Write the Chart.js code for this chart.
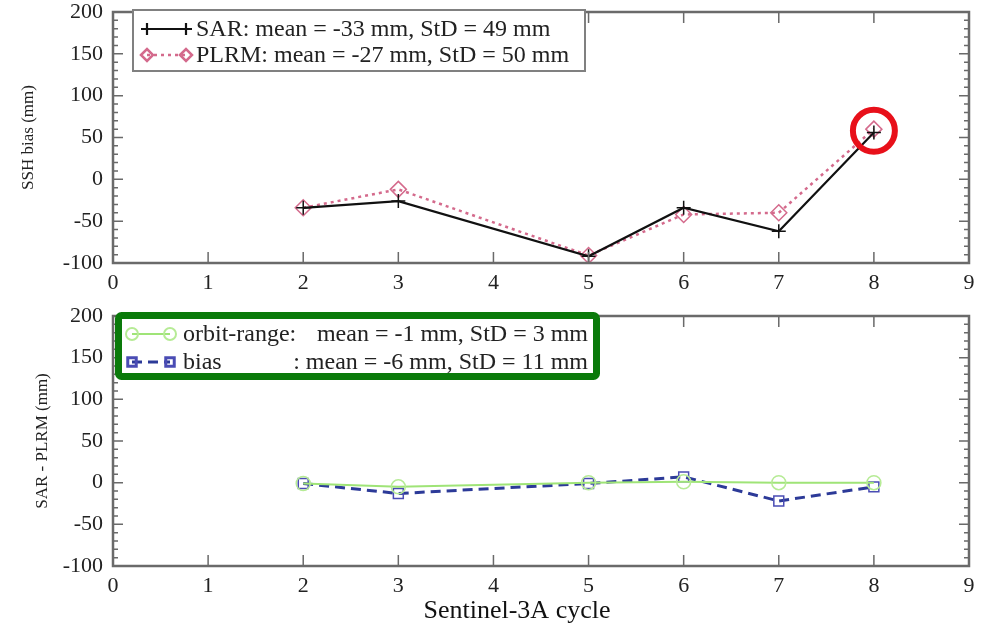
<!DOCTYPE html>
<html>
<head>
<meta charset="utf-8">
<script src="https://cdn.jsdelivr.net/npm/chart.js@4.4.0/dist/chart.umd.min.js"></script>
<style>
  body { margin: 0; background: #fff; }
  #wrap { position: relative; width: 993px; height: 630px; }
  .panel { position: absolute; left: 0; width: 993px; }
  #top { top: 0; height: 300px; }
  #bot { top: 300px; height: 330px; }
</style>
</head>
<body>
<div id="wrap">
  <div class="panel" id="top"><canvas id="c1"></canvas></div>
  <div class="panel" id="bot"><canvas id="c2"></canvas></div>
</div>
<script>
// values (mm)
const cycles = [2, 3, 5, 6, 7, 8];
const sarBias = [-34, -26, -92, -34, -62, 56];
const plrmBias = [-34, -12, -91, -42, -40, 60];
const orbitRange = [-1, -5, 0, 1, 0, 0];
const diffBias = [-1, -13, -1, 7, -22, -5];

const xTicks = [0, 1, 2, 3, 4, 5, 6, 7, 8, 9];
const yTicks = [-100, -50, 0, 50, 100, 150, 200];

const topLabels = ['SAR: mean = -33 mm, StD = 49 mm', 'PLRM: mean = -27 mm, StD = 50 mm'];
const botNames = ['orbit-range:', 'bias'];
const botStats = ['mean = -1 mm, StD = 3 mm', ': mean = -6 mm, StD = 11 mm'];

// circled point (cycle 8)
const markCycle = 8;
const markValue = 58;

const FONT = "'Liberation Serif', 'Times New Roman', serif";

function pts(vals) {
  return cycles.map((c, i) => ({ x: c, y: vals[i] }));
}

// xmgrace-like frame with inward ticks on all four sides
const frameTicks = {
  id: 'frameTicks',
  afterDatasetsDraw(chart) {
    const { ctx, chartArea: a, scales: { x, y } } = chart;
    ctx.save();
    ctx.strokeStyle = '#6a6a6a';
    ctx.lineWidth = 1.5;
    ctx.beginPath();
    for (let v = yTicks[0]; v <= yTicks[yTicks.length - 1]; v += 10) {
      const py = y.getPixelForValue(v);
      const len = yTicks.includes(v) ? 10 : 5;
      ctx.moveTo(a.left, py); ctx.lineTo(a.left + len, py);
      ctx.moveTo(a.right, py); ctx.lineTo(a.right - len, py);
    }
    xTicks.forEach(v => {
      const px = x.getPixelForValue(v);
      ctx.moveTo(px, a.bottom); ctx.lineTo(px, a.bottom - 11);
      ctx.moveTo(px, a.top); ctx.lineTo(px, a.top + 11);
    });
    ctx.stroke();
    ctx.lineWidth = 2.5;
    ctx.strokeRect(a.left, a.top, a.right - a.left, a.bottom - a.top);
    ctx.restore();
  }
};

function sample(ctx, ds, x0, x1, yy, r) {
  ctx.save();
  ctx.strokeStyle = ds.borderColor;
  ctx.lineWidth = ds.borderWidth;
  ctx.setLineDash(ds.borderDash || []);
  ctx.beginPath();
  ctx.moveTo(x0, yy); ctx.lineTo(x1, yy);
  ctx.stroke();
  ctx.setLineDash([]);
  ctx.strokeStyle = ds.pointBorderColor;
  ctx.fillStyle = 'rgba(0,0,0,0)';
  [x0, x1].forEach(px => {
    Chart.helpers.drawPoint(ctx, { pointStyle: ds.pointStyle, radius: r, rotation: 0, borderWidth: ds.pointBorderWidth }, px, yy);
  });
  ctx.restore();
}

const topLegend = {
  id: 'topLegend',
  afterDraw(chart) {
    const ctx = chart.ctx;
    ctx.save();
    ctx.fillStyle = '#fff';
    ctx.fillRect(133, 10, 452, 61);
    ctx.strokeStyle = '#808080';
    ctx.lineWidth = 2;
    ctx.strokeRect(133, 10, 452, 61);
    ctx.font = '24px ' + FONT;
    ctx.textBaseline = 'middle';
    ctx.fillStyle = '#222';
    chart.data.datasets.forEach((ds, i) => {
      const yy = 29 + i * 26;
      sample(ctx, ds, 147, 186, yy, 6);
      ctx.fillText(topLabels[i], 196, yy + 1);
    });
    // highlight circle
    const { x, y } = chart.scales;
    ctx.beginPath();
    ctx.strokeStyle = '#e8101a';
    ctx.lineWidth = 6;
    ctx.arc(x.getPixelForValue(markCycle), y.getPixelForValue(markValue), 21, 0, Math.PI * 2);
    ctx.stroke();
    ctx.restore();
  }
};

const botLegend = {
  id: 'botLegend',
  afterDraw(chart) {
    const ctx = chart.ctx;
    ctx.save();
    ctx.fillStyle = '#fff';
    ctx.beginPath();
    ctx.roundRect(118.5, 15.5, 478, 61, 3);
    ctx.fill();
    ctx.strokeStyle = '#0a7a0a';
    ctx.lineWidth = 7;
    ctx.stroke();
    ctx.font = '24px ' + FONT;
    ctx.textBaseline = 'middle';
    ctx.fillStyle = '#222';
    chart.data.datasets.forEach((ds, i) => {
      const yy = 34 + i * 28;
      sample(ctx, ds, 132, 170, yy, 6);
      ctx.textAlign = 'left';
      ctx.fillText(botNames[i], 183, yy + 1);
      ctx.textAlign = 'right';
      ctx.fillText(botStats[i], 588, yy + 1);
    });
    // x axis title
    ctx.textAlign = 'center';
    ctx.font = '26px ' + FONT;
    ctx.fillStyle = '#111';
    ctx.fillText('Sentinel-3A cycle', 517, 311);
    ctx.restore();
  }
};

function scales(title, titlePad, xHeight) {
  return {
    x: {
      type: 'linear', min: xTicks[0], max: xTicks[xTicks.length - 1],
      grid: { display: false, drawTicks: false }, border: { display: false },
      afterBuildTicks: s => { s.ticks = xTicks.map(v => ({ value: v })); },
      ticks: { color: '#222', font: { family: FONT, size: 22, lineHeight: 1 }, padding: 9, maxRotation: 0 },
      afterFit: s => { s.height = xHeight; s.paddingLeft = 0; s.paddingRight = 0; }
    },
    y: {
      min: yTicks[0], max: yTicks[yTicks.length - 1],
      grid: { display: false, drawTicks: false }, border: { display: false },
      afterBuildTicks: s => { s.ticks = yTicks.map(v => ({ value: v })); },
      ticks: { color: '#222', font: { family: FONT, size: 22, lineHeight: 1 }, padding: 10 },
      title: { display: true, text: title, color: '#222', font: { family: FONT, size: 17 }, padding: { top: titlePad, bottom: 0 } },
      afterFit: s => { s.width = 113; s.paddingTop = 0; s.paddingBottom = 0; }
    }
  };
}

const common = {
  responsive: true,
  maintainAspectRatio: false,
  animation: false,
  plugins: { legend: { display: false }, tooltip: { enabled: false } }
};

new Chart(document.getElementById('c1'), {
  type: 'line',
  data: {
    datasets: [
      {
        label: 'SAR', data: pts(sarBias),
        borderColor: '#111', borderWidth: 2.2,
        pointStyle: 'cross', pointRadius: 7, pointBorderColor: '#111', pointBorderWidth: 1.5,
        pointBackgroundColor: 'rgba(0,0,0,0)'
      },
      {
        label: 'PLRM', data: pts(plrmBias),
        borderColor: '#d46a8c', borderWidth: 2.5, borderDash: [3, 4],
        pointStyle: 'rectRot', pointRadius: 8, pointBorderColor: '#d46a8c', pointBorderWidth: 1.5,
        pointBackgroundColor: 'rgba(0,0,0,0)'
      }
    ]
  },
  options: Object.assign({}, common, {
    layout: { padding: { left: 0, right: 24, top: 12, bottom: 0 } },
    scales: scales('SSH bias (mm)', 18, 37)
  }),
  plugins: [frameTicks, topLegend]
});

new Chart(document.getElementById('c2'), {
  type: 'line',
  data: {
    datasets: [
      {
        label: 'orbit-range', data: pts(orbitRange),
        borderColor: '#9fe477', borderWidth: 2,
        pointStyle: 'circle', pointRadius: 7, pointBorderColor: '#b6eb95', pointBorderWidth: 1.5,
        pointBackgroundColor: 'rgba(0,0,0,0)'
      },
      {
        label: 'bias', data: pts(diffBias),
        borderColor: '#2c3a98', borderWidth: 3, borderDash: [10, 6],
        pointStyle: 'rect', pointRadius: 7, pointBorderColor: '#4a4cb4', pointBorderWidth: 1.5,
        pointBackgroundColor: 'rgba(0,0,0,0)'
      }
    ]
  },
  options: Object.assign({}, common, {
    layout: { padding: { left: 0, right: 24, top: 16, bottom: 0 } },
    scales: scales('SAR - PLRM (mm)', 32, 64)
  }),
  plugins: [frameTicks, botLegend]
});
</script>
</body>
</html>
